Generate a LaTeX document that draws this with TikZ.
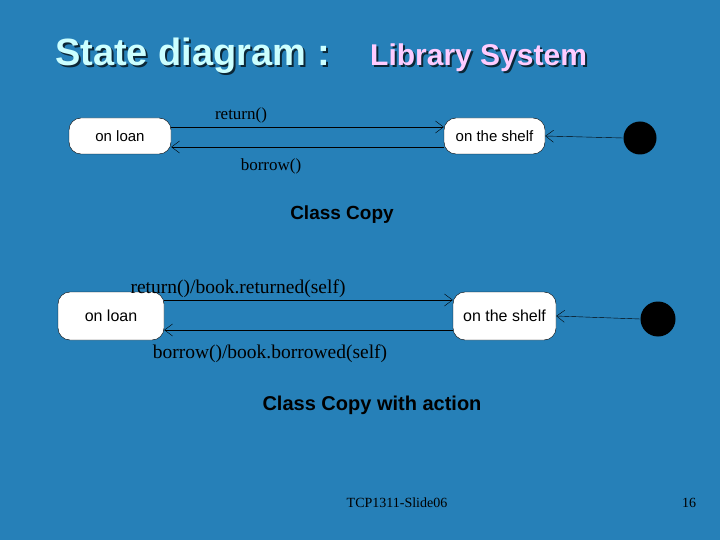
\documentclass[tikz,border=0pt]{standalone}
\usepackage{fontspec}
\setmainfont{Liberation Serif}
\newfontfamily\arial{Liberation Sans}
\usetikzlibrary{arrows.meta}
\definecolor{bg}{HTML}{2680B8}
\definecolor{tcyan}{HTML}{CCFFFF}
\definecolor{tpink}{HTML}{FFCCFF}
\begin{document}
\begin{tikzpicture}[x=1pt,y=-1pt,
  state/.style={draw=black,fill=white,rounded corners=12pt,font=\arial\fontsize{15}{17}\selectfont,inner sep=0pt},
  tr/.style={draw=black,line width=0.4pt,-{Straight Barb[length=8pt,width=12pt]}},
  lbl/.style={font=\fontsize{17}{19}\selectfont},
  init/.style={circle,fill=black,inner sep=0pt}]
\fill[bg] (0,0) rectangle (720,540);
\useasboundingbox (0,0) rectangle (720,540);
% title
\node[anchor=base west,text=black!70!bg,font=\arial\bfseries\fontsize{38}{40}\selectfont,inner sep=0pt] at (57,68) {State diagram :};
\node[anchor=base west,text=tcyan,font=\arial\bfseries\fontsize{38}{40}\selectfont,inner sep=0pt] (t1) at (55,66) {State diagram :};
\node[anchor=base west,text=black!70!bg,font=\arial\bfseries\fontsize{30}{33}\selectfont,inner sep=0pt] at (372,68) {Library System};
\node[anchor=base west,text=tpink,font=\arial\bfseries\fontsize{30}{33}\selectfont,inner sep=0pt] (t2) at (370,66) {Library System};
% diagram 1
\node[state,minimum width=102pt,minimum height=36pt] (l1) at (120,136) {on loan};
\node[state,minimum width=101pt,minimum height=36pt] (s1) at (494.5,136) {on the shelf};
\node[init,minimum size=33pt] (i1) at (640,138) {};
\draw[tr] (l1.east|-0,127) -- (s1.west|-0,127);
\draw[tr] (s1.west|-0,147) -- (l1.east|-0,147);
\draw[tr] (i1.west) -- (s1.east);
\node[lbl] (r1) at (241,115) {return()};
\node[lbl] (b1) at (271,166) {borrow()};
\node[font=\arial\bfseries\fontsize{19}{21}\selectfont,text=black] (c1) at (342,215) {Class Copy};
% diagram 2
\node[state,minimum width=106pt,minimum height=48pt,font=\arial\fontsize{16}{18}\selectfont] (l2) at (111,316) {on loan};
\node[state,minimum width=103pt,minimum height=48pt,font=\arial\fontsize{16}{18}\selectfont] (s2) at (504.5,316) {on the shelf};
\node[init,minimum size=35pt] (i2) at (658,319) {};
\draw[tr] (l2.east|-0,300) -- (s2.west|-0,300);
\draw[tr] (s2.west|-0,330) -- (l2.east|-0,330);
\draw[tr] (i2.west) -- (s2.east);
\node[lbl,font=\fontsize{19.5}{21}\selectfont] (r2) at (238,289) {return()/book.returned(self)};
\node[lbl,font=\fontsize{19.5}{21}\selectfont] (b2) at (270,354) {borrow()/book.borrowed(self)};
\node[font=\arial\bfseries\fontsize{20}{22}\selectfont,text=black] (c2) at (372,405) {Class Copy with action};
% footer
\node[font=\fontsize{14}{16}\selectfont] (f1) at (397,503) {TCP1311-Slide06};
\node[font=\fontsize{14}{16}\selectfont] (f2) at (689,503) {16};
\end{tikzpicture}
\end{document}
